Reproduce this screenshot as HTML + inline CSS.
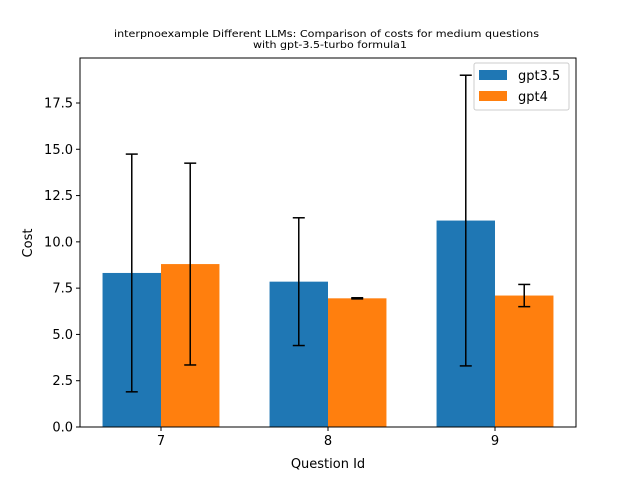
<!DOCTYPE html>
<html><head><meta charset="utf-8"><style>
body{margin:0;background:#fff;font-family:"Liberation Sans","DejaVu Sans",sans-serif;}
</style></head><body>
<svg id="chart" width="640" height="480" xmlns="http://www.w3.org/2000/svg" font-family="DejaVu Sans, Liberation Sans, sans-serif">
<rect width="640" height="480" fill="#fff"/>
<text x="114" y="37" font-size="10" textLength="425" lengthAdjust="spacingAndGlyphs">interpnoexample Different LLMs: Comparison of costs for medium questions</text>
<text x="253" y="48" font-size="10" textLength="154" lengthAdjust="spacingAndGlyphs">with gpt-3.5-turbo formula1</text>
<g id="marks"></g>
<g id="axes"></g>
<rect x="80" y="58" width="496" height="369" fill="none" stroke="#000" stroke-width="1"/>
<text x="328" y="468" font-size="13" text-anchor="middle">Question Id</text>
<text transform="translate(32,243) rotate(-90)" font-size="13" text-anchor="middle">Cost</text>
<g>
<rect x="474" y="63" width="95" height="47" rx="2" fill="#fff" fill-opacity="0.8" stroke="#ccc"/>
<rect x="479" y="70" width="28" height="10" fill="#1f77b4"/>
<text x="518" y="80" font-size="13">gpt3.5</text>
<rect x="479" y="91" width="28" height="10" fill="#ff7f0e"/>
<text x="518" y="101" font-size="13">gpt4</text>
</g>
</svg>
<script>
const categories = ["7", "8", "9"];
const gpt35 = [8.32, 7.85, 11.15];
const gpt35Err = [6.42, 3.45, 7.85];
const gpt4 = [8.8, 6.95, 7.1];
const gpt4Err = [5.45, 0.03, 0.6];
const yTicks = [0, 2.5, 5, 7.5, 10, 12.5, 15, 17.5];
const yTickLabels = ["0.0", "2.5", "5.0", "7.5", "10.0", "12.5", "15.0", "17.5"];

const NS = "http://www.w3.org/2000/svg";
const L = 80, R = 576, T = 58, B = 427;
const xMin = -0.485, xMax = 2.485, yMin = 0, yMax = 19.93;
const xs = v => L + (v - xMin) / (xMax - xMin) * (R - L);
const ys = v => B - (v - yMin) / (yMax - yMin) * (B - T);
const W = 0.35;
function mk(tag, attrs, parent) {
  const e = document.createElementNS(NS, tag);
  for (const k in attrs) e.setAttribute(k, attrs[k]);
  parent.appendChild(e);
  return e;
}
const marks = document.getElementById("marks");
const axes = document.getElementById("axes");
const series = [[gpt35, gpt35Err, "#1f77b4", -W / 2, "gpt35"], [gpt4, gpt4Err, "#ff7f0e", W / 2, "gpt4"]];
series.forEach(s => {
  s[0].forEach((v, i) => {
    const c = i + s[3];
    const r = mk("rect", {x: xs(c - W / 2), y: ys(v), width: xs(c + W / 2) - xs(c - W / 2), height: ys(0) - ys(v), fill: s[2]}, marks);
    
    
  });
});
series.forEach(s => {
  s[0].forEach((v, i) => {
    const cx = xs(i + s[3]);
    const lo = ys(v - s[1][i]), hi = ys(v + s[1][i]);
    const g = mk("g", {stroke: "#000", "stroke-width": 1.5}, marks);
    
    
    mk("line", {x1: cx, x2: cx, y1: lo, y2: hi}, g);
    mk("line", {x1: cx - 6, x2: cx + 6, y1: lo, y2: lo}, g);
    mk("line", {x1: cx - 6, x2: cx + 6, y1: hi, y2: hi}, g);
  });
});
categories.forEach((c, i) => {
  const x = xs(i);
  const t = mk("line", {x1: x, x2: x, y1: B, y2: B + 4, stroke: "#000"}, axes);
  
  
  const l = mk("text", {x: x, y: B + 18, "font-size": 13, "text-anchor": "middle"}, axes);
  l.textContent = c;
  
  
});
yTicks.forEach((v, i) => {
  const y = ys(v);
  const t = mk("line", {x1: L - 4, x2: L, y1: y, y2: y, stroke: "#000"}, axes);
  
  
  const l = mk("text", {x: L - 7, y: y + 4.5, "font-size": 13, "text-anchor": "end"}, axes);
  l.textContent = yTickLabels[i];
  
  
});
</script>
</body></html>
